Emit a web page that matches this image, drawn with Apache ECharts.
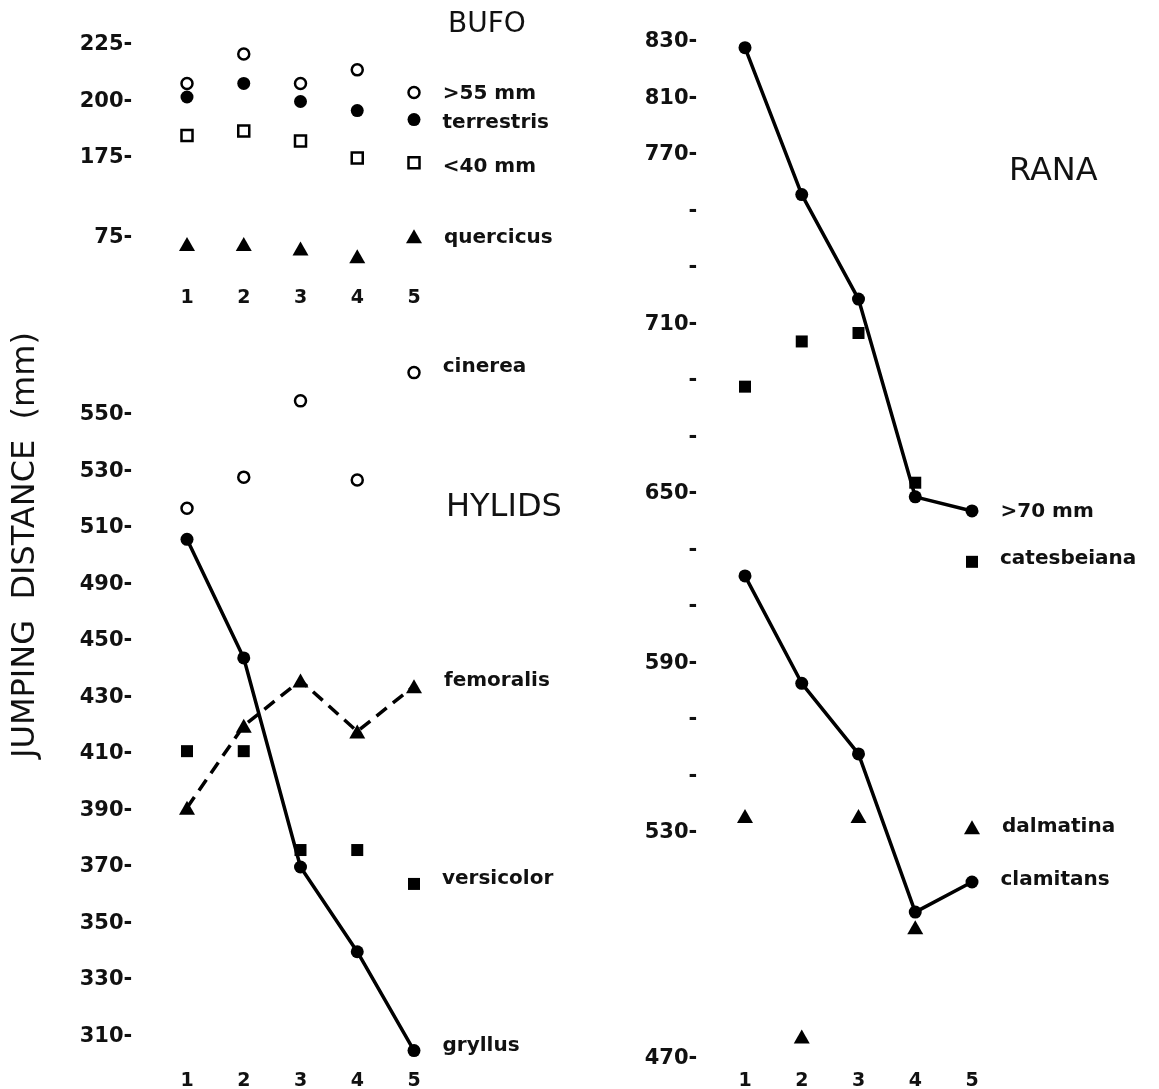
<!DOCTYPE html>
<html>
<head>
<meta charset="utf-8">
<script src="https://cdn.jsdelivr.net/npm/echarts@6/dist/echarts.min.js"></script>
<style>
html,body{margin:0;padding:0;background:#fff;}
#chart{width:1159px;height:1089px;}
</style>
</head>
<body>
<div id="chart"></div>
<script>
// ---------- data ----------
const xs = [1, 2, 3, 4, 5];
const xTickLabels = ['1', '2', '3', '4', '5'];

// BUFO
const bufoTickValues = [225, 200, 175, 75];
const bufoOver55 = [208, 221, 208, 214, 204];
const bufoTerrestris = [202, 208, 200, 196, 192];
const bufoUnder40 = [185, 187, 182.5, 175, 169];
const bufoQuercicus = [72, 72, 70, 66.5, 76];

// HYLIDS
const hylidTickValues = [550, 530, 510, 490, 450, 430, 410, 390, 370, 350, 330, 310];
const cinerea = [517, 528, 555, 527, 565];
const femoralis = [391, 420, 436, 418, 434];
const versicolor = [411, 411, 376, 376, 364];
const gryllus = [506, 444, 370, 340, 305];

// RANA
const ranaTickValues = [830, 810, 770, 750, 730, 710, 690, 670, 650, 630, 610, 590, 570, 550, 530, 470];
const ranaLabelledTicks = [830, 810, 770, 710, 650, 590, 530, 470];
const rana70 = [828, 756, 719, 649, 644];
const catesbeiana = [688, 704, 707, 654, 626];
const dalmatina = [536, 476, 536, 505, 532];
const clamitans = [621, 583, 558, 509, 517];

// ---------- broken-axis scales (value -> axis slot) ----------
const bufoScale = { values: [225, 200, 175, 75, 50], slots: [0, 1, 2, 3.4, 4.4] };
const hylidScale = { values: hylidTickValues, slots: hylidTickValues.map((v, i) => i) };
const ranaScale = { values: [830, 810, 770, 710, 650, 590, 530, 470], slots: [0, 1, 2, 5, 8, 11, 14, 18] };

function toSlot(v, sc) {
  const V = sc.values, S = sc.slots, n = V.length;
  let i = 0;
  if (v >= V[0]) i = 0;
  else if (v <= V[n - 1]) i = n - 2;
  else { for (i = 0; i < n - 1; i++) { if (v <= V[i] && v >= V[i + 1]) break; } }
  return S[i] + (v - V[i]) * (S[i + 1] - S[i]) / (V[i + 1] - V[i]);
}

const FONT = 'DejaVu Sans';
const INK = '#111';

function yAxisFor(gridIndex, sc, tickVals, labelFn, min, max, margin) {
  const slots = tickVals.map(v => toSlot(v, sc));
  return {
    type: 'value', gridIndex, inverse: true, min, max,
    axisLine: { show: false }, axisTick: { show: false }, splitLine: { show: false },
    axisLabel: {
      customValues: slots, margin,
      color: INK, fontFamily: FONT, fontWeight: 'bold', fontSize: 21,
      formatter: function (val) {
        for (let k = 0; k < slots.length; k++) {
          if (Math.abs(slots[k] - val) < 1e-6) return labelFn(tickVals[k]);
        }
        return '';
      }
    }
  };
}

function xAxisFor(gridIndex, margin) {
  return {
    type: 'value', gridIndex, min: 0, max: 6, interval: 1,
    axisLine: { show: false }, axisTick: { show: false }, splitLine: { show: false },
    axisLabel: {
      margin, color: INK, fontFamily: FONT, fontWeight: 'bold', fontSize: 19,
      formatter: v => (v >= 1 && v <= 5) ? xTickLabels[v - 1] : ''
    }
  };
}

const SYM = {
  openCircle: { symbol: 'circle', symbolSize: 11, itemStyle: { color: '#fff', borderColor: '#000', borderWidth: 2.5, opacity: 1 } },
  dot: { symbol: 'circle', symbolSize: 13, itemStyle: { color: '#000', borderWidth: 0, opacity: 1 } },
  openSquare: { symbol: 'rect', symbolSize: 11, itemStyle: { color: '#fff', borderColor: '#000', borderWidth: 2.5, opacity: 1 } },
  square: { symbol: 'rect', symbolSize: 12, itemStyle: { color: '#000', borderWidth: 0, opacity: 1 } },
  triangle: { symbol: 'triangle', symbolSize: [16, 14], itemStyle: { color: '#000', borderWidth: 0, opacity: 1 } }
};

function makeSeries(name, values, sc, gridIdx, sym, line, dy) {
  const data = xs.map((x, i) => {
    const item = { value: [x, toSlot(values[i], sc)] };
    if (i === xs.length - 1) {
      item.label = {
        show: true, position: 'right', distance: 22, offset: [0, dy || 0],
        formatter: name, color: INK, opacity: 1, fontFamily: FONT, fontWeight: 'bold', fontSize: 20
      };
    }
    return item;
  });
  const s = {
    name, type: line ? 'line' : 'scatter', xAxisIndex: gridIdx, yAxisIndex: gridIdx,
    data, symbol: sym.symbol, symbolSize: sym.symbolSize, itemStyle: sym.itemStyle,
    label: { show: false }, emphasis: { disabled: true }, silent: true, z: 3
  };
  if (line) {
    s.showAllSymbol = true;
    s.lineStyle = { color: '#000', width: 3.5, opacity: 1, type: line === 'dashed' ? [13, 8] : 'solid' };
  }
  return s;
}

const option = {
  animation: false,
  backgroundColor: '#fff',
  title: [
    { text: 'BUFO', left: 448, top: 11, padding: 0, textStyle: { fontFamily: FONT, fontWeight: 'normal', fontSize: 28, color: INK } },
    { text: 'HYLIDS', left: 446, top: 492, padding: 0, textStyle: { fontFamily: FONT, fontWeight: 'normal', fontSize: 32, color: INK } },
    { text: 'RANA', left: 1009, top: 156, padding: 0, textStyle: { fontFamily: FONT, fontWeight: 'normal', fontSize: 32, color: INK } }
  ],
  graphic: [{
    type: 'text', x: 26, y: 545, rotation: Math.PI / 2, silent: true,
    style: { text: 'JUMPING  DISTANCE  (mm)', fontFamily: FONT, fontSize: 32, fill: INK, align: 'center', verticalAlign: 'middle', textAlign: 'center', textVerticalAlign: 'middle' }
  }],
  grid: [
    { left: 130.25, top: 16.75, width: 340.5, height: 265.55, containLabel: false, outerBoundsMode: 'none' },
    { left: 130.25, top: 347.2, width: 340.5, height: 714.7, containLabel: false, outerBoundsMode: 'none' },
    { left: 688.25, top: 13.75, width: 340.5, height: 1048.1, containLabel: false, outerBoundsMode: 'none' }
  ],
  xAxis: [xAxisFor(0, 6), xAxisFor(1, 10), xAxisFor(2, 10)],
  yAxis: [
    yAxisFor(0, bufoScale, bufoTickValues, v => v + '-', -0.5, 4.2, -2),
    yAxisFor(1, hylidScale, hylidTickValues, v => v + '-', -1.2, 11.45, -2),
    yAxisFor(2, ranaScale, ranaTickValues, v => ranaLabelledTicks.indexOf(v) >= 0 ? v + '-' : '-', -0.5, 18.05, -9)
  ],
  series: [
    makeSeries('>55 mm', bufoOver55, bufoScale, 0, SYM.openCircle, null, 1),
    makeSeries('terrestris', bufoTerrestris, bufoScale, 0, SYM.dot, null, 3),
    makeSeries('<40 mm', bufoUnder40, bufoScale, 0, SYM.openSquare, null, 4),
    makeSeries('quercicus', bufoQuercicus, bufoScale, 0, SYM.triangle, null, 1),

    makeSeries('cinerea', cinerea, hylidScale, 1, SYM.openCircle, null, -6),
    makeSeries('femoralis', femoralis, hylidScale, 1, SYM.triangle, 'dashed', -5),
    makeSeries('versicolor', versicolor, hylidScale, 1, SYM.square, null, -5),
    makeSeries('gryllus', gryllus, hylidScale, 1, SYM.dot, 'solid', -5),

    makeSeries('>70 mm', rana70, ranaScale, 2, SYM.dot, 'solid', 1),
    makeSeries('catesbeiana', catesbeiana, ranaScale, 2, SYM.square, null, -3),
    makeSeries('dalmatina', dalmatina, ranaScale, 2, SYM.triangle, null, -1),
    makeSeries('clamitans', clamitans, ranaScale, 2, SYM.dot, 'solid', -2)
  ]
};

const chart = echarts.init(document.getElementById('chart'), null, { renderer: 'canvas' });
chart.setOption(option);
</script>
</body>
</html>
